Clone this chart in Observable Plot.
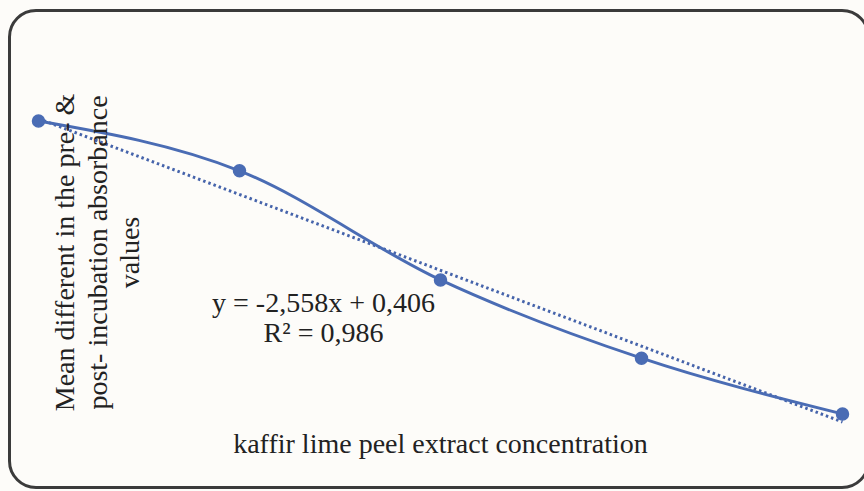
<!DOCTYPE html>
<html>
<head>
<meta charset="utf-8">
<script src="https://cdn.jsdelivr.net/npm/d3@7"></script>
<script src="https://cdn.jsdelivr.net/npm/@observablehq/plot@0.6"></script>
<style>
  html, body { margin: 0; padding: 0; background: #fdfcf9; overflow: hidden; }
  #wrap { position: relative; width: 864px; height: 491px; }
  #frame { position: absolute; left: 8px; top: 9px; width: 862px; height: 480px; box-sizing: border-box;
           border: 3px solid #3b3b3b; border-radius: 28px; pointer-events: none; }
</style>
</head>
<body>
<div id="wrap"><div id="frame"></div></div>
<script>
// Data
const concentration = [0, 0.025, 0.05, 0.075, 0.1];
const meanDifference = [0.404, 0.362, 0.270, 0.204, 0.157];
const slope = -2.558;
const intercept = 0.406;
const equationLines = ["y = -2,558x + 0,406", "R² = 0,986"];
const yLabelLines = ["Mean different in the pre- &", "post- incubation absorbance", "values"];
const xLabel = "kaffir lime peel extract concentration";

const points = concentration.map((x, i) => ({x, y: meanDifference[i]}));
const trend = [concentration[0], concentration[concentration.length - 1]].map(x => ({x, y: slope * x + intercept}));

const blue = "#4a6cb4";
const font = "'Liberation Serif', 'DejaVu Serif', serif";

const chart = Plot.plot({
  width: 864,
  height: 491,
  marginLeft: 38,
  marginRight: 22,
  marginTop: 66,
  marginBottom: 10,
  style: {background: "transparent", fontFamily: font},
  x: {domain: [0, 0.1], axis: null},
  y: {domain: [0.1, 0.45], axis: null},
  marks: [
    Plot.line(trend, {x: "x", y: "y", stroke: "#4664ab", strokeWidth: 3, strokeDasharray: "2.5,3", strokeLinecap: "butt"}),
    Plot.line(points, {x: "x", y: "y", stroke: blue, strokeWidth: 3, curve: "monotone-x"}),
    Plot.dot(points, {x: "x", y: "y", r: 6, fill: blue, stroke: blue}),
    Plot.text([equationLines.join("\n")], {frameAnchor: "top-left", text: d => d, dx: 285, dy: 251,
      textAnchor: "middle", lineAnchor: "middle", lineHeight: 1.07, fontSize: 28, fill: "#222", fontFamily: font}),
    Plot.text([yLabelLines.join("\n")], {frameAnchor: "top-left", text: d => d, dx: 58, dy: 186, rotate: -90,
      textAnchor: "middle", lineAnchor: "middle", lineHeight: 1.16, fontSize: 28, fill: "#222", fontFamily: font}),
    Plot.text([xLabel], {frameAnchor: "top-left", text: d => d, dx: 402, dy: 378,
      textAnchor: "middle", lineAnchor: "middle", fontSize: 28, fill: "#222", fontFamily: font})
  ]
});
chart.style.position = "absolute";
chart.style.left = "0px";
chart.style.top = "0px";
document.getElementById("wrap").prepend(chart);
</script>
</body>
</html>
